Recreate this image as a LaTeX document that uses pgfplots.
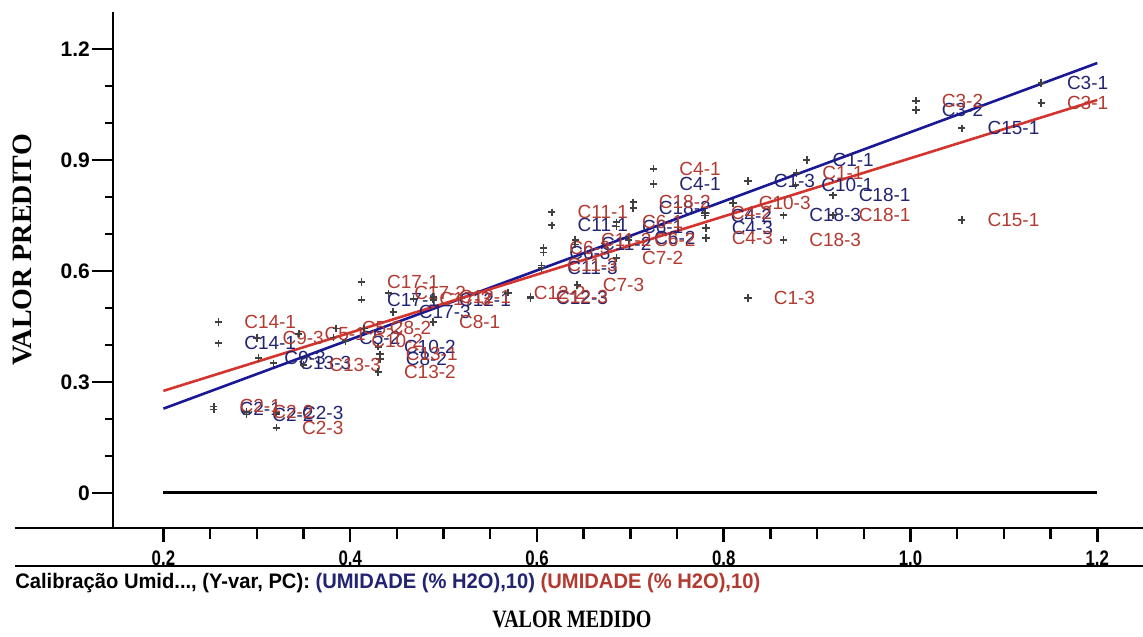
\documentclass[border=0pt]{standalone}
\usepackage{fontspec}
\setmainfont{Liberation Sans}
\newfontfamily\serifb{Liberation Serif}
\newfontfamily\narrowf[FakeStretch=0.8]{Liberation Sans}
\newfontfamily\legf[FakeStretch=0.96]{Liberation Sans}
\newfontfamily\narrowserif[FakeStretch=0.8]{Liberation Serif}
\usepackage{pgfplots}
\pgfplotsset{compat=1.18}
\usepackage{pgfplotstable}

\definecolor{bluelab}{RGB}{35,35,115}
\definecolor{redlab}{RGB}{178,58,48}
\definecolor{blueline}{RGB}{25,25,150}
\definecolor{redline}{RGB}{212,52,45}

\pgfplotstableread{
x y label
0.259 0.405 C14-1
0.302 0.365 C9-3
0.318 0.351 C13-3
0.254 0.226 C2-1
0.289 0.212 C2-2
0.321 0.216 C2-3
0.412 0.522 C17-1
0.446 0.489 C17-3
0.430 0.395 C10-2
0.432 0.362 C8-2
0.382 0.420 C5-2
0.489 0.522 C12-1
0.593 0.527 C12-3
0.605 0.608 C11-3
0.607 0.650 C6-3
0.616 0.724 C11-1
0.641 0.672 C11-2
0.685 0.720 C6-1
0.698 0.690 C6-2
0.703 0.770 C18-2
0.725 0.835 C4-1
0.780 0.750 C4-2
0.781 0.716 C4-3
0.826 0.843 C1-3
0.877 0.832 C10-1
0.889 0.900 C1-1
0.917 0.805 C18-1
0.864 0.751 C18-3
1.006 1.035 C3-2
1.055 0.986 C15-1
1.140 1.108 C3-1
}\bluedata

\pgfplotstableread{
x y label
0.259 0.462 C14-1
0.300 0.419 C9-3
0.350 0.346 C13-3
0.254 0.234 C2-1
0.289 0.219 C2-2
0.321 0.176 C2-3
0.412 0.570 C17-1
0.441 0.540 C17-2
0.468 0.525 C17-3
0.489 0.530 C12-1
0.489 0.462 C8-1
0.345 0.430 C5-1
0.385 0.445 C5-2
0.415 0.445 C8-2
0.395 0.410 C10-2
0.430 0.327 C13-2
0.432 0.375 C13-1
0.569 0.541 C12-2
0.593 0.530 C12-3
0.643 0.562 C7-3
0.605 0.615 C11-3
0.607 0.662 C6-3
0.616 0.759 C11-1
0.641 0.684 C11-2
0.685 0.732 C6-1
0.698 0.684 C6-2
0.685 0.635 C7-2
0.725 0.876 C4-1
0.703 0.786 C18-2
0.780 0.757 C4-2
0.781 0.689 C4-3
0.810 0.784 C10-3
0.826 0.527 C1-3
0.878 0.865 C1-1
0.917 0.751 C18-1
0.864 0.684 C18-3
1.006 1.060 C3-2
1.055 0.738 C15-1
1.140 1.054 C3-1
}\reddata

\begin{document}
\begin{tikzpicture}
\begin{axis}[
  scale only axis,
  width=515pt, height=258pt,
  xmin=0.146, xmax=1.249, ymin=-0.0946, ymax=1.3,
  axis x line*=bottom,
  axis y line*=left,
  axis line style={line width=1.4pt, black},
  xtick align=outside,
  ytick align=outside,
  major tick length=8pt,
  minor tick length=5pt,
  xtick style={draw=none},
  ytick style={draw=none},
  clip=false,
  xtick={0.2,0.4,0.6,0.8,1.0,1.2},
  xticklabels={0.2,0.4,0.6,0.8,1.0,1.2},
  ytick={0,0.3,0.6,0.9,1.2},
  yticklabels={0,0.3,0.6,0.9,1.2},
  xticklabel style={font=\narrowf\bfseries\fontsize{10.5}{12}\selectfont},
  yticklabel style={font=\bfseries\fontsize{10.5}{12}\selectfont},
  xlabel={VALOR MEDIDO},
  ylabel={VALOR PREDITO},
  xlabel style={at={(axis description cs:0.4456,-0.178)}, anchor=center, font=\narrowserif\bfseries\fontsize{12.5}{14}\selectfont},
  ylabel style={at={(axis description cs:-0.0883,0.539)}, anchor=center, rotate=0, font=\serifb\bfseries\fontsize{14}{16}\selectfont},
]
% axis tick marks drawn as bar-shaped marks
\addplot[forget plot, only marks, mark=|, mark size=3.5pt, mark options={black, line width=1.3pt}]
  coordinates {(0.2,-0.1135) (0.4,-0.1135) (0.6,-0.1135) (0.8,-0.1135) (1.0,-0.1135) (1.2,-0.1135)};
\addplot[forget plot, only marks, mark=|, mark size=2.8pt, mark options={black, line width=1.2pt}]
  coordinates {(0.25,-0.1097) (0.30,-0.1097) (0.35,-0.1097) (0.45,-0.1097) (0.50,-0.1097)
  (0.55,-0.1097) (0.65,-0.1097) (0.70,-0.1097) (0.75,-0.1097) (0.85,-0.1097) (0.90,-0.1097)
  (0.95,-0.1097) (1.05,-0.1097) (1.10,-0.1097) (1.15,-0.1097)};
\addplot[forget plot, only marks, mark=-, mark size=5.25pt, mark options={black, line width=1.3pt}]
  coordinates {(0.1348,0) (0.1348,0.3) (0.1348,0.6) (0.1348,0.9) (0.1348,1.2)};
\addplot[forget plot, only marks, mark=-, mark size=2pt, mark options={black, line width=1.2pt}]
  coordinates {(0.1417,0.1) (0.1417,0.2) (0.1417,0.4) (0.1417,0.5) (0.1417,0.7) (0.1417,0.8) (0.1417,1.0) (0.1417,1.1)};
\addplot[black, line width=1.5pt] coordinates {(0.2,0) (1.2,0)};
\addplot[only marks, mark=+, mark size=1.8pt, mark options={black!75, line width=0.8pt},
  nodes near coords, point meta=explicit symbolic,
  every node near coord/.append style={anchor=west, xshift=12.5pt, inner sep=0pt, text=bluelab, font=\fontsize{9.5}{10}\selectfont}]
  table[x=x, y=y, meta=label]{\bluedata};
\addplot[only marks, mark=+, mark size=1.8pt, mark options={black!75, line width=0.8pt},
  nodes near coords, point meta=explicit symbolic,
  every node near coord/.append style={anchor=west, xshift=12.5pt, inner sep=0pt, text=redlab, font=\fontsize{9.5}{10}\selectfont}]
  table[x=x, y=y, meta=label]{\reddata};
\addplot[blueline, line width=1.3pt] coordinates {(0.2,0.228) (1.2,1.162)};
\addplot[redline, line width=1.3pt] coordinates {(0.2,0.276) (1.2,1.062)};
\draw[line width=1.4pt] (axis cs:0.041,-0.0946) -- (axis cs:0.146,-0.0946);
\draw[line width=1.1pt] (axis cs:0.041,-0.197) -- (axis cs:1.249,-0.197);
\node[anchor=west, inner sep=0pt, font=\legf\bfseries\fontsize{10.5}{12}\selectfont] at (axis cs:0.041,-0.243)
  {Calibração Umid..., (Y-var, PC): \textcolor{bluelab}{(UMIDADE (\% H2O),10)} \textcolor{redlab}{(UMIDADE (\% H2O),10)}};
\coordinate (tl) at (axis cs:0.025,1.3324);
\coordinate (br) at (axis cs:1.249,-0.3865);
\end{axis}
\pgfresetboundingbox
\path[use as bounding box] (tl) rectangle (br);
\end{tikzpicture}
\end{document}
